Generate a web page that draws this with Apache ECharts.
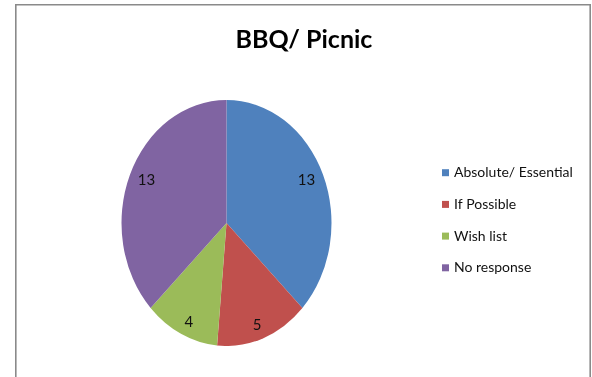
<!DOCTYPE html>
<html>
<head>
<meta charset="utf-8">
<script src="https://cdn.jsdelivr.net/npm/echarts@6/dist/echarts.min.js"></script>
<style>
  html, body { margin: 0; padding: 0; background: #ffffff; }
  #wrap { position: relative; width: 592px; height: 377px; overflow: hidden; background: #ffffff; }
  #pie, #main { position: absolute; left: 0; top: 0; width: 592px; height: 377px; }
</style>
</head>
<body>
<div id="wrap">
  <div id="pie"></div>
  <div id="main"></div>
</div>
<script>
// Survey answers for the BBQ / picnic question
const categories = ['Absolute/ Essential', 'If Possible', 'Wish list', 'No response'];
const counts = [13, 5, 4, 13];
const colors = ['#4F81BD', '#C0504D', '#9BBB59', '#8064A2'];
const chartTitle = 'BBQ/ Picnic';

// Pie geometry: the pie is drawn as a circle and stretched vertically into an ellipse
const PIE_CX = 226.5;
const PIE_CY = 223;
const PIE_R = 105;
const PIE_SQUASH = 123 / 105;      // vertical stretch of the ellipse
const LABEL_Y_STRETCH = 1.26;      // vertical spread of the value labels

const FONT = 'Lato, "Open Sans", sans-serif';

const pieData = categories.map((name, i) => ({ name: name, value: counts[i] }));

// Coloured slices (SVG so the stretch stays crisp)
const pieEl = document.getElementById('pie');
pieEl.style.transformOrigin = PIE_CX + 'px ' + PIE_CY + 'px';
pieEl.style.transform = 'scaleY(' + PIE_SQUASH + ')';
const pieChart = echarts.init(pieEl, null, { renderer: 'svg' });
pieChart.setOption({
  animation: false,
  color: colors,
  series: [{
    type: 'pie',
    silent: true,
    center: [PIE_CX, PIE_CY],
    radius: [0, PIE_R],
    startAngle: 90,
    clockwise: true,
    label: { show: false },
    labelLine: { show: false },
    itemStyle: { borderWidth: 0 },
    data: pieData
  }]
});

// Frame, title, legend and value labels
const mainChart = echarts.init(document.getElementById('main'));
mainChart.setOption({
  animation: false,
  backgroundColor: 'transparent',
  color: colors,
  title: {
    text: chartTitle,
    left: 304,
    top: 27,
    padding: 0,
    textAlign: 'center',
    textStyle: { fontFamily: FONT, fontWeight: 'bold', fontSize: 25, color: '#000000' }
  },
  legend: {
    orient: 'vertical',
    left: 442,
    top: 164.7,
    padding: 0,
    itemWidth: 7,
    itemHeight: 7,
    itemGap: 15.7,
    icon: 'rect',
    selectedMode: false,
    textStyle: { fontFamily: FONT, fontSize: 14, color: '#111111', lineHeight: 16 },
    data: categories.map((name, i) => ({ name: name, itemStyle: { color: colors[i] } }))
  },
  graphic: [{
    type: 'rect',
    silent: true,
    shape: { x: 15.8, y: 4.8, width: 574.4, height: 420 },
    style: { fill: 'none', stroke: '#8a8a8a', lineWidth: 1.6 }
  }],
  series: [{
    type: 'pie',
    silent: true,
    center: [PIE_CX, PIE_CY],
    radius: [63, PIE_R],
    startAngle: 90,
    clockwise: true,
    itemStyle: { color: 'rgba(0,0,0,0)', borderWidth: 0 },
    label: {
      show: true,
      position: 'inside',
      formatter: '{c}',
      fontFamily: FONT,
      fontSize: 15,
      color: '#111111'
    },
    labelLine: { show: false },
    labelLayout: function (p) {
      const lx = p.labelRect.x + p.labelRect.width / 2;
      const ly = p.labelRect.y + p.labelRect.height / 2;
      return { x: lx, y: PIE_CY + (ly - PIE_CY) * LABEL_Y_STRETCH };
    },
    data: pieData
  }]
});
</script>
</body>
</html>
